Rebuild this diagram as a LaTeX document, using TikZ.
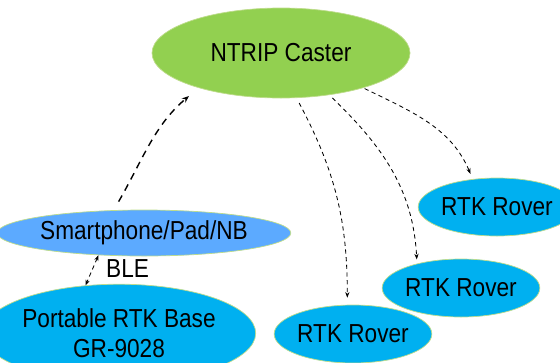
\documentclass[tikz,border=0pt]{standalone}
\usepackage{fontspec}
\setmainfont{Liberation Sans}
\usetikzlibrary{shapes.geometric,arrows.meta}
\definecolor{castergreen}{RGB}{146,208,80}
\definecolor{roverblue}{RGB}{0,176,240}
\definecolor{phoneblue}{RGB}{92,170,255}
\definecolor{rimgreen}{RGB}{190,220,140}
\newcommand{\tall}[1]{\scalebox{1}[1.15]{#1}}
\tikzstyle{blob}=[ellipse, draw=rimgreen, line width=0.5pt, inner sep=0pt,
  font=\fontsize{16.1}{22.7}\selectfont, align=center]
\tikzstyle{link}=[dashed, dash pattern=on 3pt off 2.5pt, line width=0.6pt,
  -{Stealth[length=4pt,width=3pt]}]
\tikzstyle{uplink}=[dash pattern=on 5pt off 4pt, line width=1pt,
  -{Stealth[length=5pt,width=4pt]}]

\begin{document}
\begin{tikzpicture}
        \useasboundingbox (0,0) rectangle (14,9.05);
        \node[blob, fill=castergreen, minimum width=6.45cm, minimum height=2.25cm] (caster) at (7.025,7.725) {\tall{NTRIP Caster}};
        \node[blob, fill=phoneblue, minimum width=6.35cm, minimum height=1.15cm] (phone) at (3.6,3.225) {\tall{Smartphone/Pad/NB}};
        \node[blob, fill=roverblue, minimum width=5.575cm, minimum height=2.45cm, font=\fontsize{16.1}{21.5}\selectfont] (base) at (2.975,0.72) {\tall{Portable RTK Base}\\\tall{GR-9028}};
        \node[blob, fill=roverblue, minimum width=3.4cm, minimum height=1.45cm] (roverA) at (12.425,3.875) {\tall{RTK Rover}};
        \node[blob, fill=roverblue, minimum width=3.4cm, minimum height=1.45cm] (roverB) at (11.525,1.85) {\tall{RTK Rover}};
        \node[blob, fill=roverblue, minimum width=3.45cm, minimum height=1.45cm] (roverC) at (8.825,0.7) {\tall{RTK Rover}};
        % phone up to the caster, base over BLE
        \draw[uplink, shorten <=7pt, shorten >=9pt] (phone.143) to[out=60, in=220] (caster.203);
        \draw[link, {Stealth[length=4pt,width=3pt]}-{Stealth[length=4pt,width=3pt]}] (phone.206) -- (base.125)
          node[pos=0.45, right=6pt, font=\fontsize{16.1}{20}\selectfont] (ble) {\tall{BLE}};
        % caster down to the rovers
        \draw[link, shorten <=4pt, shorten >=5pt] (caster.-71) to[out=-62, in=90] (roverC.101);
        \draw[link, shorten <=3pt, shorten >=3pt] (caster.-41) to[out=-44, in=93] (roverB.151);
        \draw[link, shorten <=1pt, shorten >=4pt] (caster.-23) to[out=-26, in=113] (roverA.131);
\end{tikzpicture}
\end{document}
